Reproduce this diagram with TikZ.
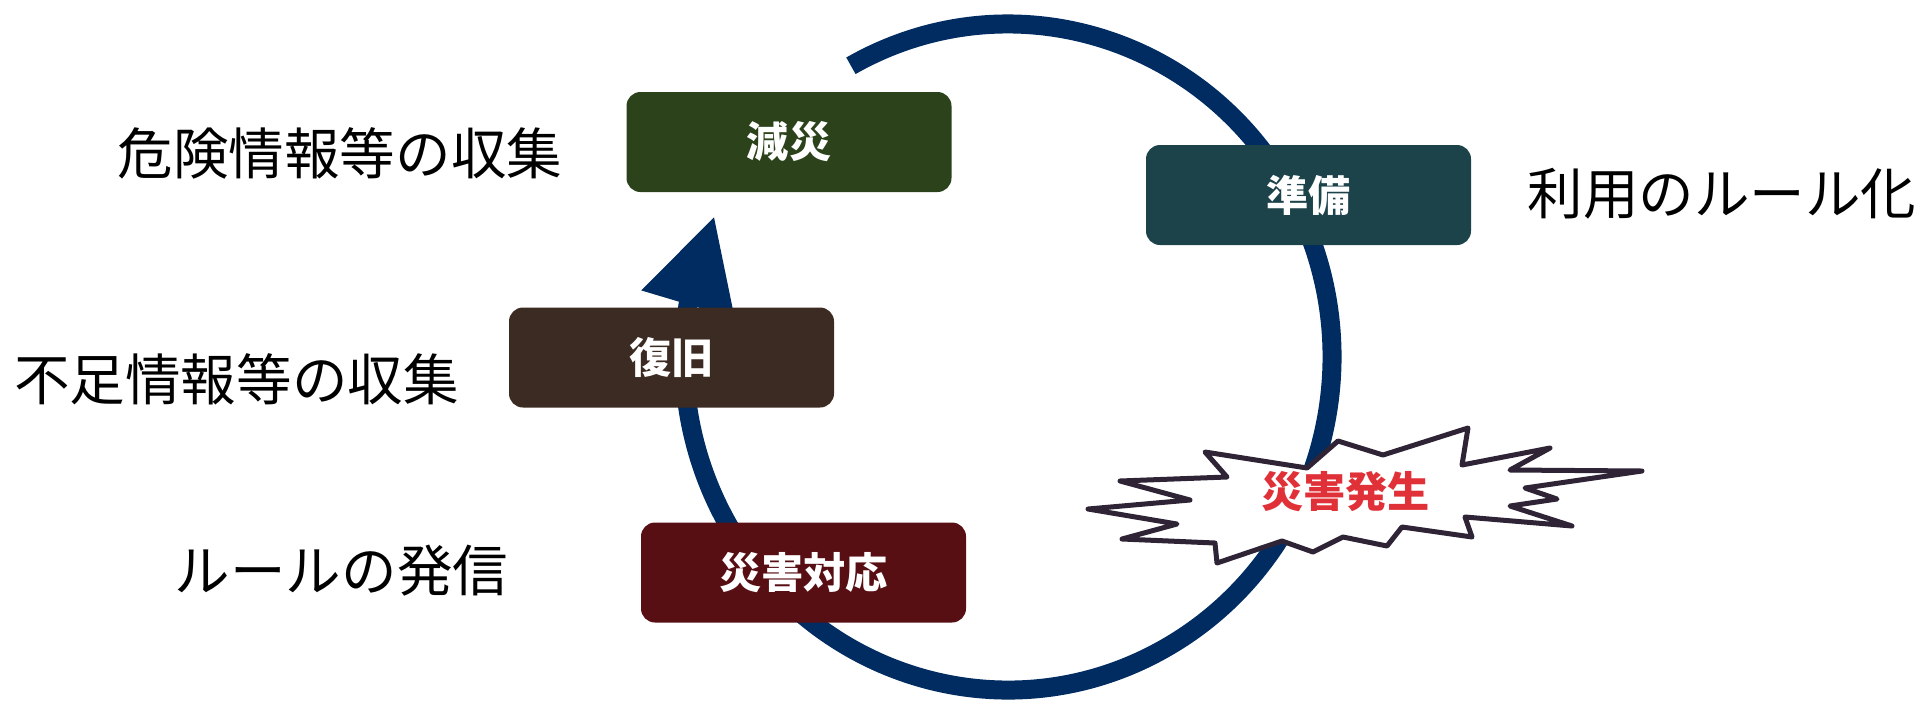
\documentclass[tikz,border=0pt]{standalone}
\usepackage{fontspec}
\setmainfont{Noto Sans CJK JP}
\usepackage{xcolor}
\usepackage{tikz}
\usetikzlibrary{arrows.meta,bending}
\usetikzlibrary{calc}
\definecolor{cycleblue}{RGB}{0,44,97}
\definecolor{gensaigreen}{RGB}{43,66,27}
\definecolor{junbiteal}{RGB}{28,67,74}
\definecolor{fukkyubrown}{RGB}{60,43,34}
\definecolor{taioured}{RGB}{87,15,20}
\definecolor{burstline}{RGB}{46,36,54}
\definecolor{burstred}{RGB}{224,49,56}

\begin{document}
\begin{tikzpicture}[
    phase/.style={rounded corners=0.14cm,minimum width=3.25cm,minimum height=1cm,inner sep=0pt,text=white,font=\fontsize{12}{14}\selectfont\bfseries},
    note/.style={inner sep=0pt,font=\fontsize{15.8}{18}\selectfont}]
            \useasboundingbox (0,0) rectangle (19.24,7);
            \coordinate (c) at (10.08,3.43);

            \draw[line width=0.19cm,draw=cycleblue,-{Triangle[length=0.92cm,width=0.92cm,flex]}] ($(c)+(119:3.24 and 3.33)$) arc (119:-205:3.24 and 3.33);

            \node[phase,fill=gensaigreen] (gensai) at (7.89,5.58) {減災};
            \node[phase,fill=junbiteal] (junbi) at (13.085,5.05) {準備};
            \node[phase,fill=fukkyubrown] (fukkyu) at (6.715,3.425) {復旧};
            \node[phase,fill=taioured] (taiou) at (8.035,1.275) {災害対応};

            \node[note] (kiken) at (3.40,5.47) {危険情報等の収集};
            \node[note] (fusoku) at (2.365,3.21) {不足情報等の収集};
            \node[note] (hasshin) at (3.415,1.29) {ルールの発信};
            \node[note] (riyou) at (17.22,5.065) {利用のルール化};

            \draw[line width=0.05cm,draw=burstline,fill=white,line join=round] (10.88,1.91) -- (11.90,2.00) -- (11.20,2.19) -- (12.27,2.23) -- (12.05,2.48) -- (13.07,2.32) -- (13.38,2.59) -- (13.83,2.45) -- (14.68,2.72) -- (14.62,2.35) -- (15.50,2.52) -- (15.10,2.30) -- (16.42,2.29) -- (15.25,2.12) -- (15.57,2.01) -- (15.10,1.94) -- (15.72,1.74) -- (14.65,1.83) -- (14.72,1.63) -- (14.02,1.73) -- (13.87,1.54) -- (13.43,1.63) -- (13.13,1.48) -- (12.82,1.59) -- (12.17,1.37) -- (12.15,1.57) -- (11.22,1.61) -- (11.77,1.76) -- cycle;
            \node[font=\fontsize{12}{14}\selectfont\bfseries,text=burstred] (hassei) at (13.455,2.08) {災害発生};
\end{tikzpicture}
\end{document}
